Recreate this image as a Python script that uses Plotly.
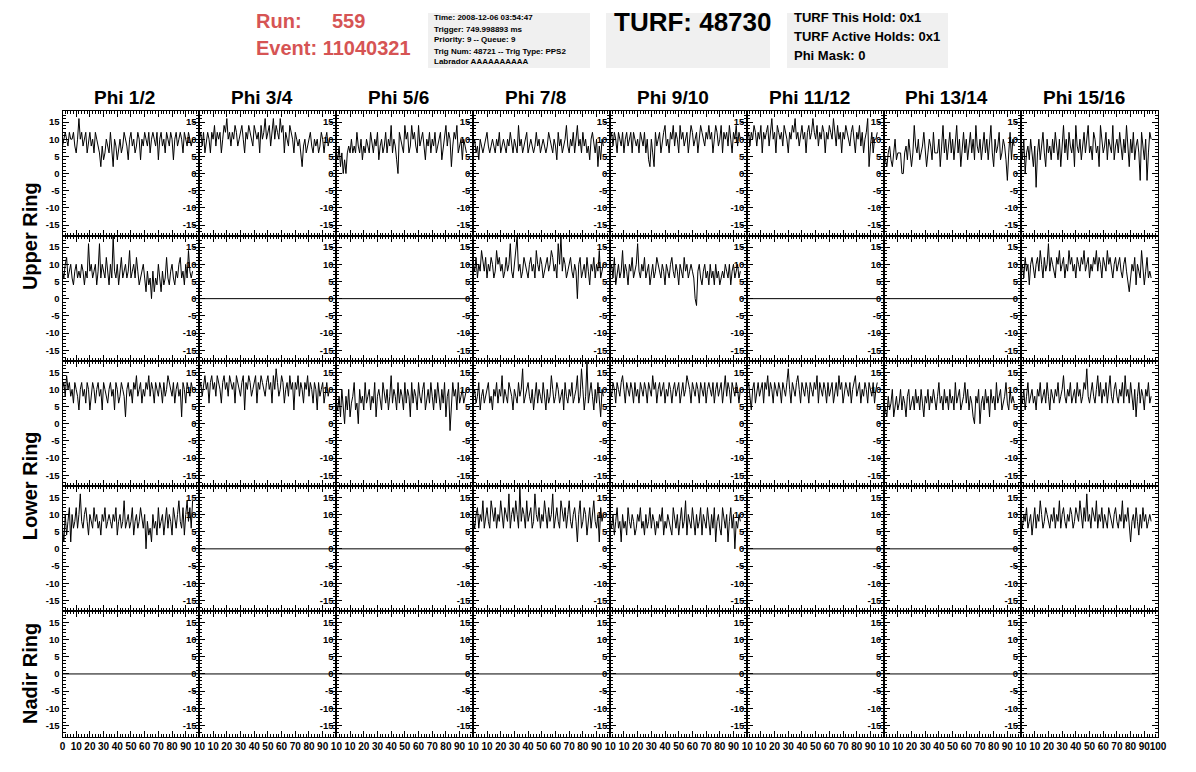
import plotly.graph_objects as go

# ---------------- text / labels ----------------
PHI_LABELS = ["Phi 1/2", "Phi 3/4", "Phi 5/6", "Phi 7/8",
              "Phi 9/10", "Phi 11/12", "Phi 13/14", "Phi 15/16"]
RING_LABELS = ["Upper Ring", "Lower Ring", "Nadir Ring"]
Y_TICKS = [-15, -10, -5, 0, 5, 10, 15]
X_TICKS = [0, 10, 20, 30, 40, 50, 60, 70, 80, 90, 100]
INFO_LINES = ["Time: 2008-12-06 03:54:47", "Trigger: 749.998893 ms",
              "Priority: 9 -- Queue: 9", "Trig Num: 48721 -- Trig Type: PPS2",
              "Labrador AAAAAAAAAA"]
TURF_LINES = ["TURF This Hold: 0x1", "TURF Active Holds: 0x1", "Phi Mask: 0"]
RUN_NUMBER = "559"
EVENT_NUMBER = "11040321"
TURF_NUMBER = "48730"

SAMPLE_DT = 1.0  # sample spacing along the x axis

# ---------------- waveforms (ADC-like values) ----------------
UPPER_TOP_PHI01 = [8,10,12,10,8,12,10,10,12,8,6,10,16,10,12,8,10,12,6,10,12,8,10,6,
                   12,10,8,6,2,8,4,6,10,8,6,12,8,2,10,8,4,8,10,6,8,12,10,8,
                   4,10,12,8,10,6,8,12,10,4,10,8,12,10,8,12,6,10,12,10,8,12,4,10,
                   12,8,10,6,12,10,8,12,10,4,10,12,8,10,12,10,6,12,10,8,12,10,8,10]
UPPER_TOP_PHI03 = [10,12,8,12,6,10,12,10,6,12,10,14,8,12,10,12,6,10,14,12,16,10,12,8,
                   12,10,14,12,8,10,12,14,10,6,12,10,14,12,10,8,14,12,10,12,6,14,10,12,
                   16,10,12,14,8,12,16,10,14,12,10,16,12,14,6,12,10,8,14,12,10,6,12,10,
                   8,10,6,2,8,10,6,8,10,12,8,6,10,8,10,6,8,12,10,6,10,12,8,10]
UPPER_TOP_PHI05 = [6,4,8,2,6,0,4,0,6,8,6,10,6,8,6,12,8,6,10,4,8,6,10,8,
                   6,12,8,6,10,8,12,4,8,10,6,8,12,6,10,8,14,6,10,8,4,0,12,10,
                   8,6,14,10,12,6,8,14,10,12,8,6,14,8,10,12,8,4,10,8,12,6,10,8,
                   12,6,8,10,12,4,8,10,14,8,12,10,2,8,12,10,14,6,8,10,4,10,8,6]
UPPER_TOP_PHI07 = [8,10,6,8,4,10,8,6,8,10,12,8,6,8,10,8,6,10,8,12,6,8,10,8,
                   6,10,8,12,8,6,10,8,6,14,8,10,6,8,10,12,6,8,10,8,6,8,12,8,
                   10,6,8,10,8,6,8,12,10,8,6,10,8,4,12,8,10,6,8,10,14,8,6,10,
                   8,12,6,10,14,8,10,6,12,8,10,6,8,4,10,12,8,6,10,2,8,4,10,8]
UPPER_TOP_PHI09 = [10,12,8,12,10,6,12,10,8,12,6,10,12,8,10,12,6,12,10,8,10,6,12,10,
                   8,12,6,10,4,2,10,6,2,12,8,10,12,6,10,12,14,8,10,6,12,10,14,8,
                   12,10,6,14,10,12,8,10,12,6,10,14,12,8,10,12,6,10,14,12,10,8,12,10,
                   14,10,12,6,10,14,12,8,10,14,6,12,10,12,8,14,10,6,12,10,14,8,12,10]
UPPER_TOP_PHI11 = [10,12,8,12,10,14,12,8,12,10,14,6,12,10,12,14,8,12,16,10,12,6,14,12,
                   10,12,8,14,12,10,6,12,10,14,12,16,10,12,8,12,14,10,12,6,12,14,10,12,
                   16,12,10,14,8,12,10,14,12,6,12,10,14,12,10,16,12,8,14,10,12,6,12,10,
                   14,12,10,8,12,14,10,6,12,10,14,8,12,6,10,12,16,2,8,12,6,10,10,12]
UPPER_TOP_PHI13 = [6,4,2,6,8,4,2,6,10,4,6,6,6,0,0,6,8,4,10,6,2,6,14,8,
                   6,10,4,6,8,12,6,2,6,10,8,4,12,6,6,6,10,2,8,14,6,10,4,8,
                   12,6,10,4,8,14,6,10,2,8,12,6,10,4,8,12,6,10,4,14,8,6,10,4,
                   8,12,6,10,4,8,14,6,2,10,6,8,12,4,6,10,8,4,-2,6,12,4,10,8]
UPPER_TOP_PHI15 = [8,4,10,0,6,8,4,10,6,2,8,-4,6,10,4,8,12,6,2,10,6,8,4,10,
                   6,12,8,4,10,2,8,14,6,10,4,12,8,6,10,2,14,8,6,10,4,8,12,6,
                   10,14,6,8,4,12,10,6,8,2,14,10,6,8,12,4,10,8,6,14,4,8,10,6,
                   12,8,4,10,6,14,8,2,10,6,12,4,8,10,6,-2,12,8,4,10,-2,6,12,10]

UPPER_BOT_PHI01 = [8,6,10,12,6,8,10,6,4,8,10,6,8,6,10,8,4,8,6,16,8,10,6,8,
                   10,4,8,16,6,10,8,6,12,8,4,10,6,18,8,6,10,4,8,12,6,8,10,6,
                   8,14,6,8,10,6,12,8,4,6,8,10,6,2,8,4,6,0,8,2,6,4,10,6,
                   2,8,4,6,12,6,4,8,10,6,4,8,6,10,12,6,8,4,10,6,14,8,6,8]
UPPER_BOT_PHI07 = [10,8,12,6,10,8,14,10,8,12,6,10,8,12,10,6,8,14,10,12,8,10,6,8,
                   12,8,10,16,8,6,10,12,18,8,10,6,8,12,10,8,6,10,12,8,10,6,14,10,
                   8,12,10,6,8,10,12,8,10,14,12,8,10,6,16,10,18,8,12,10,6,8,10,12,
                   8,6,10,8,0,10,12,6,8,10,6,12,8,4,10,8,12,6,10,8,14,6,8,10]
UPPER_BOT_PHI09 = [8,10,6,12,4,8,10,6,8,14,6,10,8,4,10,8,12,6,8,10,16,8,6,10,
                   8,12,6,8,10,4,8,10,6,8,12,10,8,6,10,8,4,10,8,6,10,12,8,6,
                   10,8,4,10,8,6,12,8,10,6,8,10,8,6,0,-2,8,10,6,4,8,10,6,8,
                   4,10,6,8,4,10,6,8,4,6,8,6,10,8,6,10,4,8,10,6,8,10,6,8]
UPPER_BOT_PHI15 = [8,10,6,12,8,10,4,10,12,8,6,10,12,8,14,10,6,12,8,10,16,8,12,10,
                   8,6,12,10,14,8,10,12,6,10,8,14,10,12,8,10,6,12,10,8,12,10,14,8,
                   10,12,6,10,8,12,10,14,8,12,10,6,12,10,8,14,10,12,8,6,10,12,8,10,
                   12,8,6,10,12,8,4,2,6,10,8,12,4,10,8,6,14,10,4,8,12,6,8,6]

LOWER_TOP_PHI01 = [10,12,8,14,10,12,8,10,6,12,10,8,4,10,12,8,10,6,12,10,4,8,12,10,
                   6,10,12,8,10,4,12,10,8,6,10,12,8,10,4,12,10,6,8,12,10,8,2,10,
                   12,8,10,6,12,10,14,8,10,12,6,10,8,12,10,14,8,12,10,6,12,10,8,12,
                   10,6,12,8,10,14,12,10,8,12,6,10,12,8,10,2,12,10,6,12,10,8,12,10]
LOWER_TOP_PHI03 = [10,12,8,12,14,10,12,6,12,14,10,12,8,14,12,10,6,12,14,10,12,8,14,12,
                   10,12,6,14,12,10,8,12,14,4,12,10,14,12,8,10,12,14,6,12,10,14,12,10,
                   8,12,14,10,12,6,14,10,16,12,8,10,14,12,6,10,12,8,14,10,12,4,12,10,
                   14,8,12,10,6,12,10,14,8,12,10,6,12,10,4,12,8,10,12,6,10,12,8,10]
LOWER_TOP_PHI05 = [6,4,8,2,10,6,0,8,4,10,2,6,8,12,4,6,0,10,6,8,4,12,6,8,
                   10,4,8,6,12,2,8,10,6,4,12,8,6,10,4,8,14,6,10,8,4,12,6,10,
                   8,4,12,6,10,8,2,12,6,10,8,4,12,8,6,10,12,4,8,10,6,12,8,4,
                   10,6,12,8,4,10,6,12,2,8,10,-2,6,12,8,10,4,12,6,8,10,6,8,10]
LOWER_TOP_PHI07 = [8,10,6,8,12,4,8,10,6,8,10,12,6,8,4,10,8,12,6,10,8,14,6,10,
                   8,6,12,10,8,4,10,8,6,12,8,10,16,6,8,10,12,8,6,10,4,8,12,6,
                   10,8,6,12,8,4,10,6,8,14,10,6,8,12,10,6,8,10,4,12,8,6,10,8,
                   12,6,8,10,14,6,8,16,10,4,8,18,6,10,12,8,4,10,6,12,8,2,10,8]
LOWER_TOP_PHI09 = [10,8,12,10,6,12,10,8,12,14,10,6,12,10,8,12,10,6,12,8,10,6,12,10,
                   8,12,10,6,12,10,8,14,10,12,6,10,12,8,10,12,6,10,8,12,10,6,10,12,
                   8,10,12,6,10,12,8,10,14,12,10,6,12,10,8,12,10,6,12,10,8,12,6,10,
                   12,10,8,12,6,10,12,8,10,12,6,10,14,8,12,10,6,12,10,8,12,10,6,10]
LOWER_TOP_PHI11 = [10,12,8,4,10,12,6,10,12,8,10,12,6,12,10,14,8,12,10,6,12,10,8,12,
                   10,6,12,10,8,12,16,10,6,12,10,8,12,14,10,6,12,10,8,12,10,6,12,10,
                   8,12,10,14,6,12,10,8,12,10,6,12,8,10,12,6,10,12,8,14,10,12,6,10,
                   12,10,8,12,6,10,12,14,8,10,12,6,10,8,12,10,6,12,10,8,12,6,10,12]
LOWER_TOP_PHI13 = [6,4,2,8,4,6,10,2,6,8,4,6,10,4,8,6,2,8,10,4,6,8,4,10,
                   6,8,4,10,6,2,8,6,10,4,8,6,10,6,4,8,12,6,8,4,10,6,8,4,
                   10,6,8,4,12,6,8,10,4,6,8,12,6,10,4,8,6,2,0,8,6,10,0,6,
                   8,4,10,6,8,2,10,6,8,4,12,6,8,10,4,6,8,12,6,4,10,6,8,6]
LOWER_TOP_PHI15 = [8,6,10,4,8,12,6,8,10,6,8,4,10,8,12,6,8,10,6,12,8,4,10,8,
                   6,10,8,12,6,8,10,14,8,6,10,8,12,6,8,10,6,12,8,10,6,8,12,10,
                   16,8,6,10,12,8,6,10,14,8,12,6,10,8,12,6,10,14,8,6,10,12,8,6,
                   10,8,12,6,14,8,10,6,12,8,4,10,2,8,12,6,10,8,4,10,8,12,6,8]

LOWER_BOT_PHI01 = [6,2,10,4,8,12,2,10,6,8,12,6,10,16,8,6,10,12,8,4,10,8,6,12,
                   8,10,6,8,4,10,8,12,6,8,10,8,6,10,8,12,4,8,10,6,8,14,6,8,
                   10,6,8,12,4,8,10,6,8,12,8,6,10,0,8,4,6,2,10,6,8,4,12,6,
                   8,10,4,8,12,6,10,8,4,12,8,6,10,14,8,6,12,4,10,14,8,12,6,14]
LOWER_BOT_PHI07 = [8,6,10,12,6,10,8,14,6,10,12,8,6,14,10,8,12,6,10,8,14,10,6,12,
                   10,8,16,6,10,12,8,14,10,6,18,8,12,10,6,14,8,10,12,6,8,16,10,8,
                   12,6,10,8,14,10,6,12,8,10,16,6,10,12,8,6,14,10,8,12,6,10,14,8,
                   6,10,12,8,2,10,14,6,8,12,10,4,8,12,6,10,14,8,6,10,2,12,8,10]
LOWER_BOT_PHI09 = [8,6,10,4,8,12,6,8,2,10,6,8,4,12,8,6,10,8,4,6,10,8,12,6,
                   8,4,10,6,8,12,6,10,8,4,8,6,10,8,12,4,8,6,10,8,6,4,12,8,
                   6,10,4,8,12,6,8,14,4,10,8,6,12,8,4,10,6,8,12,4,10,8,6,12,
                   8,4,10,6,12,2,8,10,6,4,12,8,6,10,2,8,12,6,10,0,8,6,10,8]
LOWER_BOT_PHI15 = [8,6,10,8,12,6,8,10,4,8,12,6,10,8,14,10,6,8,12,10,8,6,10,8,
                   12,6,10,8,14,6,10,12,8,6,10,8,12,10,6,8,12,10,8,14,10,6,12,8,
                   16,8,10,6,12,10,8,14,6,10,8,12,6,10,8,6,12,10,8,6,10,12,8,6,
                   10,8,14,6,10,8,12,6,2,8,10,6,12,8,4,10,6,12,8,10,6,8,10,8]

EMPTY_CHANNEL = [0] * 100  # channels with no signal read flat at 0

# rows of the display: Upper ring (2 rows), Lower ring (2 rows), Nadir ring
E = EMPTY_CHANNEL
GRID = [
    [UPPER_TOP_PHI01, UPPER_TOP_PHI03, UPPER_TOP_PHI05, UPPER_TOP_PHI07,
     UPPER_TOP_PHI09, UPPER_TOP_PHI11, UPPER_TOP_PHI13, UPPER_TOP_PHI15],
    [UPPER_BOT_PHI01, E, E, UPPER_BOT_PHI07, UPPER_BOT_PHI09, E, E, UPPER_BOT_PHI15],
    [LOWER_TOP_PHI01, LOWER_TOP_PHI03, LOWER_TOP_PHI05, LOWER_TOP_PHI07,
     LOWER_TOP_PHI09, LOWER_TOP_PHI11, LOWER_TOP_PHI13, LOWER_TOP_PHI15],
    [LOWER_BOT_PHI01, E, E, LOWER_BOT_PHI07, LOWER_BOT_PHI09, E, E, LOWER_BOT_PHI15],
    [E, E, E, E, E, E, E, E],
]

# ---------------- layout geometry (pixels) ----------------
W, H = 1196, 772
PX_L, PX_R, PX_T, PX_B = 62.5, 1158.0, 111.0, 736.5
NCOL, NROW = 8, 5
CW = (PX_R - PX_L) / NCOL
RH = (PX_B - PX_T) / NROW
FONT = "Liberation Sans, Arial, Helvetica, sans-serif"
RED = "#d65454"
GREY = "#f0f0f0"


def fx(px):
    return px / W


def fy(py):
    return 1 - py / H


fig = go.Figure()
layout = {}
for r in range(NROW):
    for c in range(NCOL):
        k = r * NCOL + c + 1
        sx = "" if k == 1 else str(k)
        wave = GRID[r][c]
        xs = [i * SAMPLE_DT for i in range(len(wave))]
        fig.add_trace(go.Scatter(
            x=xs, y=wave, mode="lines", line=dict(color="black", width=1),
            xaxis="x" + sx, yaxis="y" + sx, showlegend=False, hoverinfo="skip"))

        x0, x1 = fx(PX_L + c * CW), fx(PX_L + (c + 1) * CW)
        y1, y0 = fy(PX_T + r * RH), fy(PX_T + (r + 1) * RH)

        if c == 0:
            texts = [str(v) for v in X_TICKS[:-1]] + ["10"]
        elif c == NCOL - 1:
            texts = [""] + [str(v) for v in X_TICKS[1:]]
        else:
            texts = [""] + [str(v) for v in X_TICKS[1:-1]] + ["10"]

        layout["xaxis" + sx] = dict(
            domain=[x0, x1], range=[0, 100], anchor="y" + sx,
            showline=True, linecolor="black", linewidth=1, mirror="allticks",
            ticks="inside", ticklen=6, tickwidth=1, tickcolor="black",
            tickmode="array", tickvals=X_TICKS, ticktext=texts, tickangle=0,
            showticklabels=(r == NROW - 1),
            tickfont=dict(family=FONT, size=10, color="black", weight="bold"),
            minor=dict(ticks="inside", ticklen=3, tickcolor="black",
                       tickmode="linear", tick0=0, dtick=2),
            showgrid=False, zeroline=False, fixedrange=True, automargin=False)
        layout["yaxis" + sx] = dict(
            domain=[y0, y1], range=[-18.2, 18.2], anchor="x" + sx,
            showline=True, linecolor="black", linewidth=1, mirror="allticks",
            ticks="inside", ticklen=6, tickwidth=1, tickcolor="black",
            tickmode="array", tickvals=Y_TICKS, tickangle=0,
            ticktext=[str(v) for v in Y_TICKS],
            tickfont=dict(family=FONT, size=9.5, color="black", weight="bold"),
            minor=dict(ticks="inside", ticklen=3, tickcolor="black",
                       tickmode="linear", tick0=0, dtick=1),
            showgrid=False, zeroline=False, fixedrange=True, automargin=False)

annotations = []
shapes = []

# column titles
for c, lab in enumerate(PHI_LABELS):
    annotations.append(dict(
        x=fx(PX_L + (c + 0.5) * CW - 6), y=fy(97), xref="paper", yref="paper",
        text=lab, showarrow=False, xanchor="center", yanchor="middle",
        font=dict(family=FONT, size=19, color="black", weight="bold")))

# ring labels
ring_centers = [PX_T + 1 * RH, PX_T + 3 * RH, PX_T + 4.5 * RH]
for lab, cy in zip(RING_LABELS, ring_centers):
    annotations.append(dict(
        x=fx(30), y=fy(cy), xref="paper", yref="paper", text=lab,
        showarrow=False, textangle=-90, xanchor="center", yanchor="middle",
        font=dict(family=FONT, size=20, color="black", weight="bold")))

# header: run / event
annotations.append(dict(x=fx(254), y=fy(21), xref="paper", yref="paper",
                        text="Run:", showarrow=False, xanchor="left", yanchor="middle",
                        font=dict(family=FONT, size=20, color=RED, weight="bold")))
annotations.append(dict(x=fx(330), y=fy(21), xref="paper", yref="paper",
                        text=RUN_NUMBER, showarrow=False, xanchor="left", yanchor="middle",
                        font=dict(family=FONT, size=20, color=RED, weight="bold")))
annotations.append(dict(x=fx(254), y=fy(48), xref="paper", yref="paper",
                        text="Event: " + EVENT_NUMBER, showarrow=False, xanchor="left",
                        yanchor="middle",
                        font=dict(family=FONT, size=20, color=RED, weight="bold")))

# grey info boxes
for bx0, bx1 in [(428, 590), (606, 770), (787, 948)]:
    shapes.append(dict(type="rect", xref="paper", yref="paper",
                       x0=fx(bx0), x1=fx(bx1), y0=fy(68), y1=fy(13),
                       fillcolor=GREY, line=dict(width=0), layer="below"))

info_y = [17.5, 29, 40, 51, 62]
for t, yy in zip(INFO_LINES, info_y):
    annotations.append(dict(x=fx(432), y=fy(yy), xref="paper", yref="paper",
                            text=t, showarrow=False, xanchor="left", yanchor="middle",
                            font=dict(family=FONT, size=8, color="black", weight="bold")))

annotations.append(dict(x=fx(612), y=fy(22), xref="paper", yref="paper",
                        text="TURF: " + TURF_NUMBER, showarrow=False, xanchor="left",
                        yanchor="middle",
                        font=dict(family=FONT, size=26, color="black", weight="bold")))

turf_y = [18, 36.5, 55]
for t, yy in zip(TURF_LINES, turf_y):
    annotations.append(dict(x=fx(792), y=fy(yy), xref="paper", yref="paper",
                            text=t, showarrow=False, xanchor="left", yanchor="middle",
                            font=dict(family=FONT, size=13, color="black", weight="bold")))

fig.update_layout(
    width=W, height=H, margin=dict(l=0, r=0, t=0, b=0),
    paper_bgcolor="white", plot_bgcolor="white",
    annotations=annotations, shapes=shapes, showlegend=False,
    **layout)

fig.write_html("out.html",
               config={"displayModeBar": False, "staticPlot": True},
               post_script="document.body.style.margin='0px';"
                           "document.body.style.overflow='hidden';")
